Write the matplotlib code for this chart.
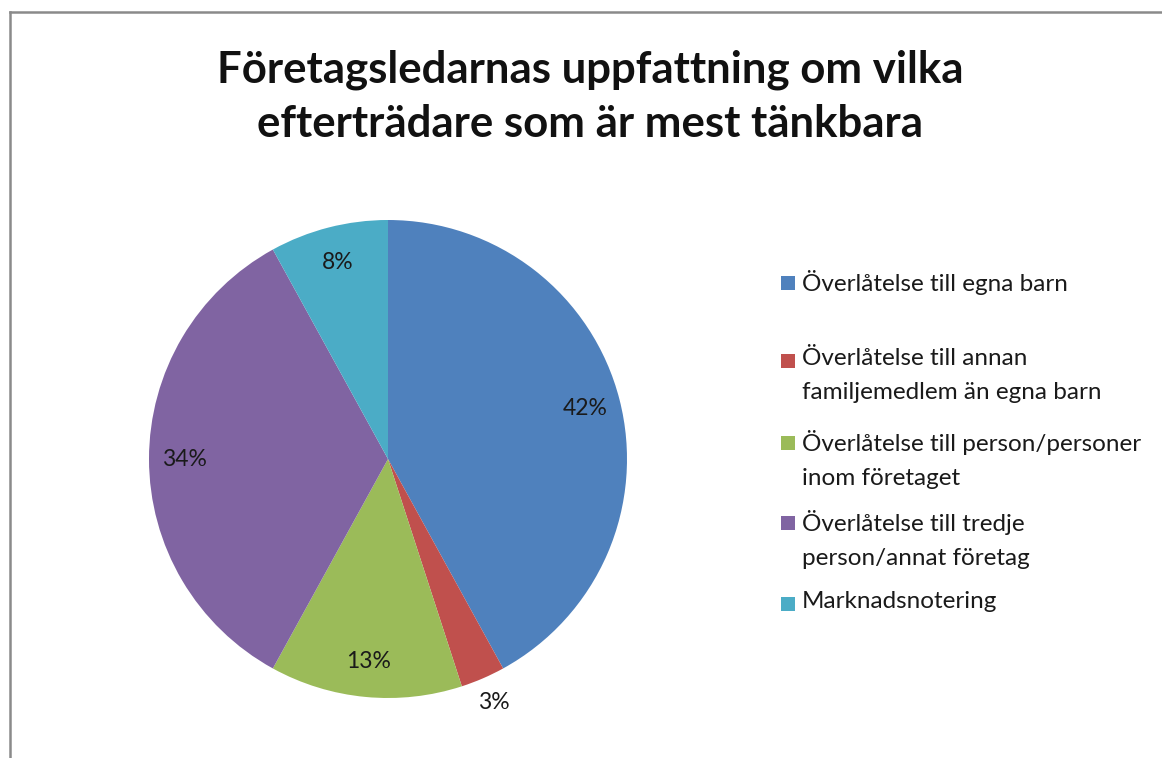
import matplotlib
matplotlib.use("Agg")
import matplotlib.pyplot as plt
import numpy as np
from matplotlib.lines import Line2D
from matplotlib.patches import Rectangle

categories = [
    "Överlåtelse till egna barn",
    "Överlåtelse till annan\nfamiljemedlem än egna barn",
    "Överlåtelse till person/personer\ninom företaget",
    "Överlåtelse till tredje\nperson/annat företag",
    "Marknadsnotering",
]
values = [42, 3, 13, 34, 8]
colors = ["#4F81BD", "#C0504D", "#9BBB59", "#8064A2", "#4BACC6"]
title = "Företagsledarnas uppfattning om vilka\nefterträdare som är mest tänkbara"

plt.rcParams['font.family'] = ['Lato', 'DejaVu Sans']

W, H = 1162, 758
fig = plt.figure(figsize=(W / 100, H / 100), dpi=100)
fig.patch.set_facecolor("white")

# border (left and top visible)
fig.add_artist(Line2D([10 / W, 10 / W], [0, 1 - 11.5 / H], color="#8a8a8a", lw=1.8, transform=fig.transFigure))
fig.add_artist(Line2D([10 / W, 1], [1 - 11.5 / H, 1 - 11.5 / H], color="#8a8a8a", lw=1.8, transform=fig.transFigure))

# pie axes
cx, cy, r = 388, 459, 239
ax = fig.add_axes([(cx - r) / W, (H - cy - r) / H, 2 * r / W, 2 * r / H])
wedges, _ = ax.pie(values, colors=colors, startangle=90, counterclock=False,
                   radius=1, wedgeprops=dict(linewidth=0))
ax.set_xlim(-1, 1)
ax.set_ylim(-1, 1)
ax.axis("off")
for w, v in zip(wedges, values):
    ang = np.deg2rad((w.theta1 + w.theta2) / 2)
    d = 1.11 if v < 5 else 0.85
    ax.text(d * np.cos(ang), d * np.sin(ang), f"{v}%", ha="center", va="center",
            fontsize=16.5, color="#1a1a1a", clip_on=False)

fig.text(590 / W, 1 - 97 / H, title, ha="center", va="center", fontsize=31.5,
         fontweight="bold", color="#111111", linespacing=1.42)

# legend
entry_y = [283, 361, 443, 523, 604]
for lab, col, y in zip(categories, colors, entry_y):
    fig.add_artist(Rectangle((781 / W, 1 - (y + 7) / H), 14 / W, 14 / H,
                             facecolor=col, edgecolor="none", transform=fig.transFigure))
    fig.text(802 / W, 1 - (y - 13) / H, lab, ha="left", va="top", fontsize=17.5,
             color="#1a1a1a", linespacing=1.75)

fig.savefig("out.png", dpi=100, facecolor="white")
